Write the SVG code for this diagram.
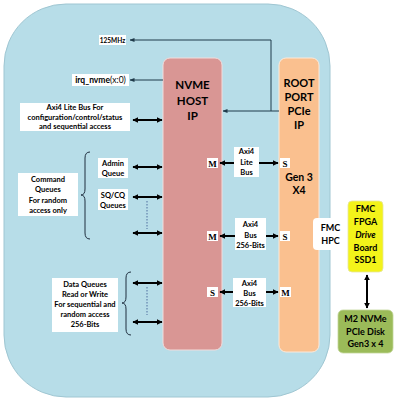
<svg xmlns="http://www.w3.org/2000/svg" width="400" height="404" viewBox="0 0 400 404">
<defs>
<marker id="ah" viewBox="0 0 10 10" refX="9" refY="5" markerWidth="6" markerHeight="6" orient="auto-start-reverse" markerUnits="userSpaceOnUse"><path d="M0,0 L10,5 L0,10 z" fill="#000"/></marker>
<marker id="ahs" viewBox="0 0 10 10" refX="9" refY="5" markerWidth="5" markerHeight="5" orient="auto-start-reverse" markerUnits="userSpaceOnUse"><path d="M0,1 L10,5 L0,9 z" fill="#1f3a4a"/></marker>
<style>
.t{font-family:Lato,"Liberation Sans",sans-serif;font-weight:bold;text-anchor:middle;fill:#000}
.s{font-size:7.5px}
.b{font-size:11.5px}
.ms{font-family:"Liberation Serif",serif;font-weight:bold;font-size:9px;text-anchor:middle}
.lbl{fill:#fff}
.bus{stroke:#000;stroke-width:2;fill:none;marker-start:url(#ah);marker-end:url(#ah)}
.thin{stroke:#1f3a4a;stroke-width:1;fill:none}
.dot{stroke:#4f6f9f;stroke-width:1;stroke-dasharray:1.5,1.5;fill:none}
.brace{stroke:#1f2f3f;stroke-width:1;fill:none}
</style>
</defs>
<rect x="4" y="4" width="326" height="393" rx="62" fill="#b7dde8" stroke="#9fc6d2" stroke-width="1"/>
<g id="nvme-host">
<rect x="163" y="58" width="59" height="292" rx="7" fill="#d99694" stroke="#f2dcdb" stroke-width="1"/>
<text class="t b" x="192.5" y="89">NVME</text>
<text class="t b" x="192.5" y="105">HOST</text>
<text class="t b" x="192.5" y="120">IP</text>
</g>
<g id="root-port">
<rect x="279" y="58" width="40" height="294" rx="7" fill="#fac08f" stroke="#fde9d9" stroke-width="1"/>
<text class="t" font-size="11" x="299" y="87">ROOT</text>
<text class="t" font-size="11" x="299" y="101">PORT</text>
<text class="t" font-size="11" x="299" y="115">PCIe</text>
<text class="t" font-size="11" x="299" y="129">IP</text>
<text class="t" font-size="10.5" x="299" y="181">Gen 3</text>
<text class="t" font-size="10.5" x="299" y="194">X4</text>
</g>
<g id="connectors">
<path class="thin" d="M279,111 L223,111" marker-end="url(#ahs)"/>
<path class="thin" d="M271,111 L271,40 L130,40" marker-end="url(#ahs)"/>
<path class="thin" d="M163,80 L130,80" marker-end="url(#ahs)"/>
<path class="bus" d="M133,120 L162,120"/>
<path class="bus" d="M133,167 L162,167"/>
<path class="bus" d="M133,197 L162,197"/>
<path class="bus" d="M133,233 L162,233"/>
<path class="dot" d="M147,201 L147,229"/>
<path class="bus" d="M133,283 L162,283"/>
<path class="bus" d="M133,322 L162,322"/>
<path class="dot" d="M147,287 L147,315"/>
<path class="brace" d="M90,152 Q85,152 85,158 L85,189 Q85,195 81,195 Q85,195 85,201 L85,233 Q85,239 90,239"/>
<path class="brace" d="M131,272 Q126,272 126,278 L126,297 Q126,303 122,303 Q126,303 126,309 L126,329 Q126,335 131,335"/>
<path class="bus" d="M220,163 L278,163"/>
<path class="bus" d="M220,236 L278,236"/>
<path class="bus" d="M220,292 L278,292"/>
<path class="bus" d="M367,275 L367,308"/>
</g>
<g id="clk-label">
<rect class="lbl" x="99" y="35" width="27" height="10"/>
<text class="t" font-size="6.5" x="112.5" y="42.5">125MHz</text>
</g>
<g id="irq-label">
<rect class="lbl" x="72" y="74" width="57" height="12"/>
<text class="t" font-size="8.5" x="100.5" y="83">irq_nvme<tspan font-weight="normal">(x:0)</tspan></text>
</g>
<g id="axi-lite-label">
<rect class="lbl" x="20" y="103" width="110" height="28"/>
<text class="t s" x="75" y="110">Axi4 Lite Bus For</text>
<text class="t s" x="75" y="119.5">configuration/control/status</text>
<text class="t s" x="75" y="129">and sequential access</text>
</g>
<g id="command-queues">
<rect class="lbl" x="18" y="173" width="60" height="43"/>
<text class="t s" x="48" y="181.5">Command</text>
<text class="t s" x="48" y="192">Queues</text>
<text class="t s" x="48" y="202.5">For random</text>
<text class="t s" x="48" y="213">access only</text>
</g>
<g id="admin-queue">
<rect class="lbl" x="98" y="158" width="30" height="20"/>
<text class="t s" x="113" y="166">Admin</text>
<text class="t s" x="113" y="176">Queue</text>
</g>
<g id="sqcq-queues">
<rect class="lbl" x="98" y="189" width="30" height="21"/>
<text class="t s" x="113" y="197.5">SQ/CQ</text>
<text class="t s" x="113" y="207.5">Queues</text>
</g>
<g id="data-queues">
<rect class="lbl" x="52" y="278" width="66" height="54"/>
<text class="t s" x="85" y="287">Data Queues</text>
<text class="t s" x="85" y="297">Read or Write</text>
<text class="t s" x="85" y="307">For sequential and</text>
<text class="t s" x="85" y="317">random access</text>
<text class="t s" x="85" y="327">256-Bits</text>
</g>
<g id="bus1">
<rect class="lbl" x="234" y="147" width="25" height="30"/>
<text class="t s" x="246.5" y="154">Axi4</text>
<text class="t s" x="246.5" y="164.5">Lite</text>
<text class="t s" x="246.5" y="175">Bus</text>
<rect class="lbl" x="207" y="158" width="11" height="10"/>
<text class="ms" x="212.5" y="166.5">M</text>
<rect class="lbl" x="280" y="158" width="10" height="10"/>
<text class="ms" x="285" y="166.5">S</text>
</g>
<g id="bus2">
<rect class="lbl" x="235" y="218" width="31" height="32"/>
<text class="t s" x="250.5" y="227">Axi4</text>
<text class="t s" x="250.5" y="237.5">Bus</text>
<text class="t s" x="250.5" y="248">256-Bits</text>
<rect class="lbl" x="207" y="231" width="11" height="10"/>
<text class="ms" x="212.5" y="239.5">M</text>
<rect class="lbl" x="280" y="231" width="10" height="10"/>
<text class="ms" x="285" y="239.5">S</text>
</g>
<g id="bus3">
<rect class="lbl" x="233" y="278" width="33" height="29"/>
<text class="t s" x="249.5" y="286">Axi4</text>
<text class="t s" x="249.5" y="296">Bus</text>
<text class="t s" x="249.5" y="306">256-Bits</text>
<rect class="lbl" x="207" y="287" width="11" height="10"/>
<text class="ms" x="212.5" y="295.5">S</text>
<rect class="lbl" x="280" y="287" width="11" height="10"/>
<text class="ms" x="285.5" y="295.5">M</text>
</g>
<g id="fmc-hpc">
<rect x="313" y="218" width="35" height="32" rx="4" fill="#fff"/>
<text class="t" font-size="9" x="330.5" y="231">FMC</text>
<text class="t" font-size="9" x="330.5" y="244">HPC</text>
</g>
<g id="fmc-board">
<rect x="348" y="201" width="35" height="71" rx="4" fill="#f3f31a" stroke="#e6e6a0" stroke-width="0.8"/>
<text class="t" font-size="9" x="365.5" y="212">FMC</text>
<text class="t" font-size="9" x="365.5" y="225">FPGA</text>
<text class="t" font-size="9" x="365.5" y="238" font-style="italic">Drive</text>
<text class="t" font-size="9" x="365.5" y="250.5">Board</text>
<text class="t" font-size="9" x="365.5" y="263">SSD1</text>
</g>
<g id="m2-disk">
<rect x="338" y="310" width="55" height="43" rx="5" fill="#9bbb59" stroke="#c3d69b" stroke-width="0.8"/>
<text class="t" font-size="9" x="365.5" y="322">M2 NVMe</text>
<text class="t" font-size="9" x="365.5" y="334.5">PCIe Disk</text>
<text class="t" font-size="9" x="365.5" y="347">Gen3 x 4</text>
</g>
</svg>
